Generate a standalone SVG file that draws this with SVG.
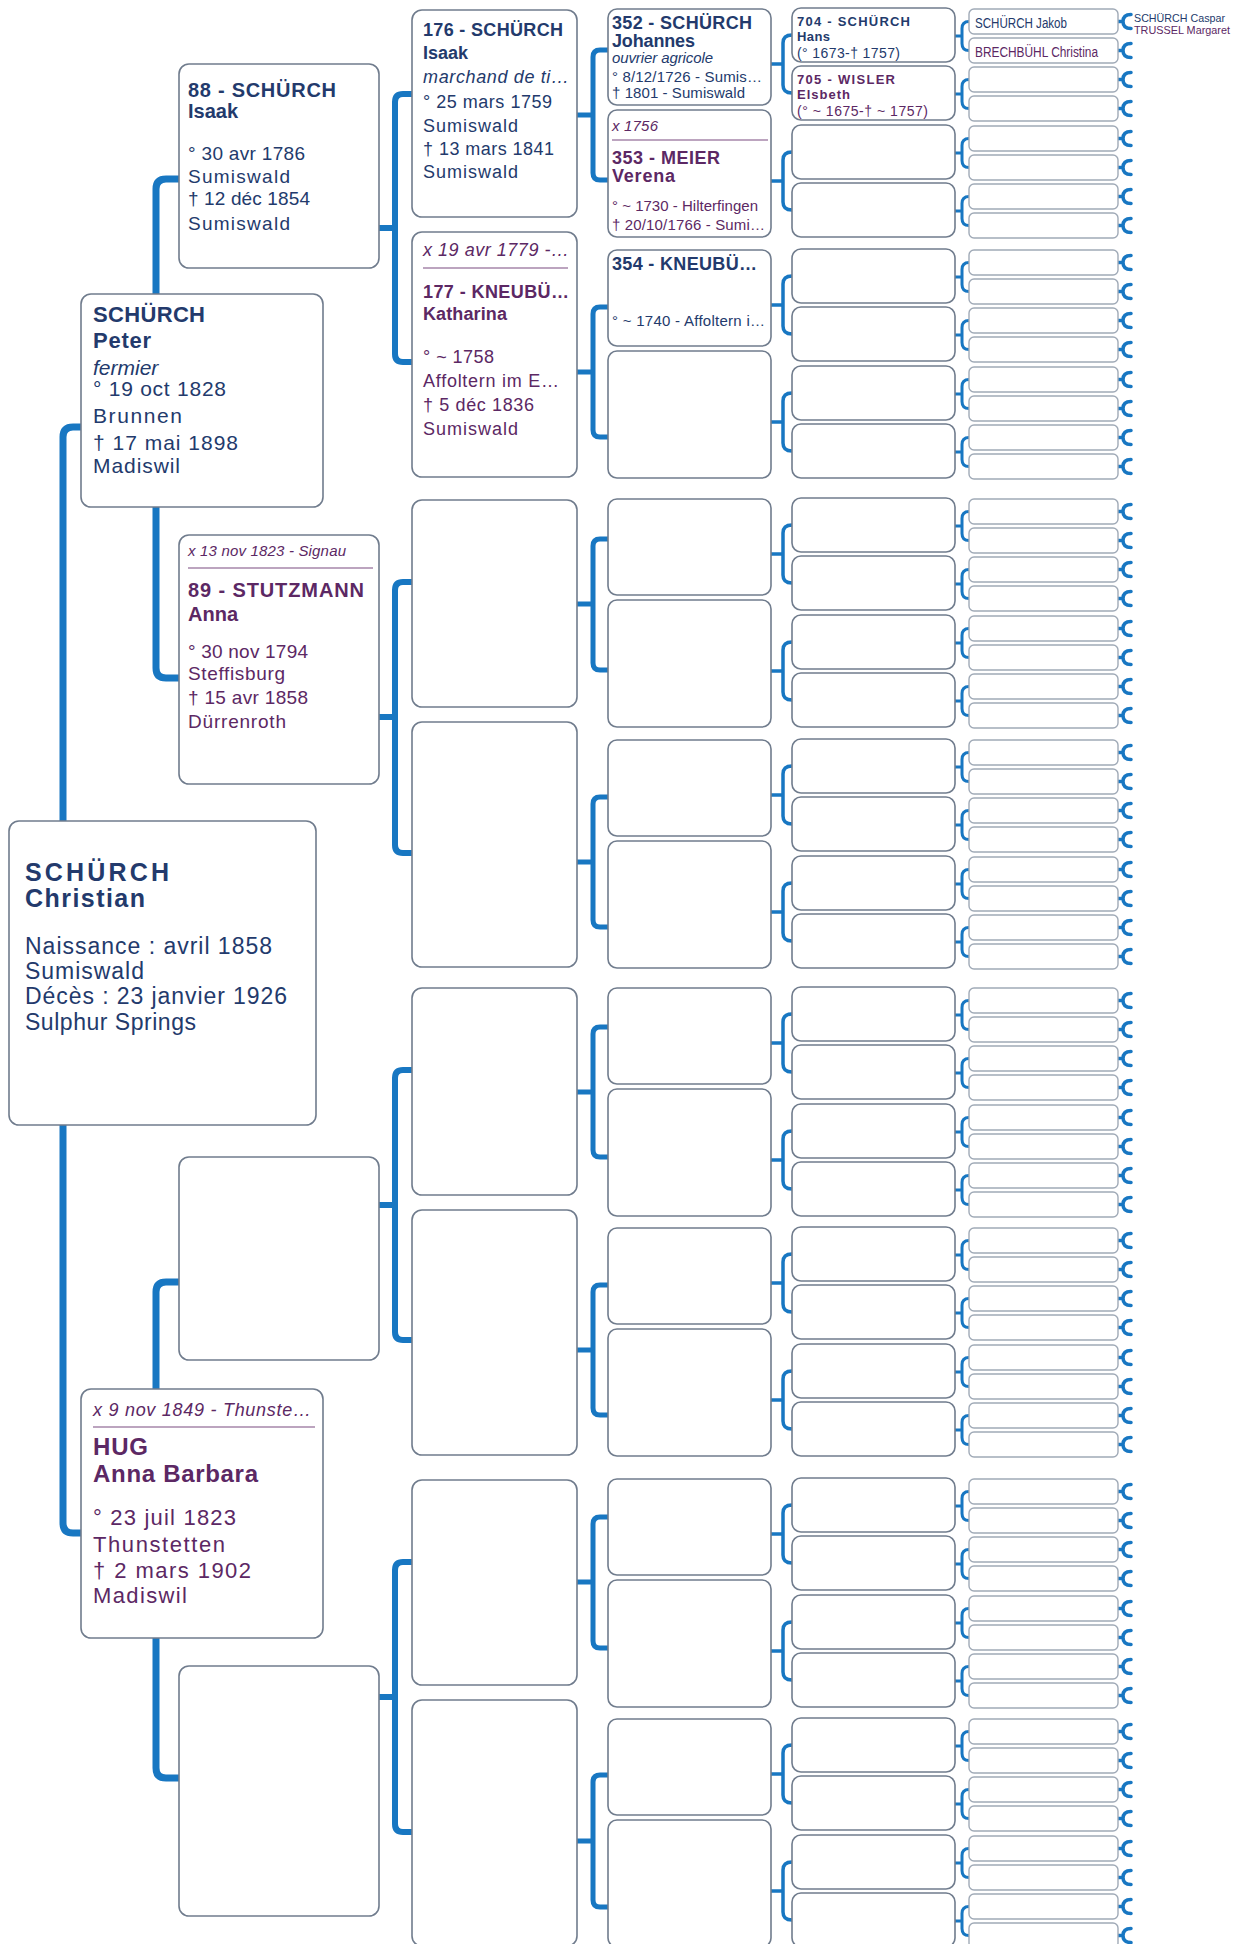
<svg xmlns="http://www.w3.org/2000/svg" width="1242" height="1944" viewBox="0 0 1242 1944">
<style>
text{font-family:"Liberation Sans",Arial,Helvetica,sans-serif}
.m{fill:#233a6c}
.f{fill:#5c2864}
.b{font-weight:bold}
.i{font-style:italic}
.bx{fill:#fff;stroke:#707c8d;stroke-width:1.6}
.bs{fill:#fff;stroke:#a0aab7;stroke-width:1.4}
.k7{fill:none;stroke:#1877c2;stroke-width:7;stroke-linejoin:round}
.k6{fill:none;stroke:#1877c2;stroke-width:6;stroke-linejoin:round}
.k5{fill:none;stroke:#1877c2;stroke-width:5;stroke-linejoin:round}
.k4{fill:none;stroke:#1877c2;stroke-width:3.5;stroke-linejoin:round}
.k3{fill:none;stroke:#1877c2;stroke-width:3;stroke-linejoin:round}
.kc{fill:none;stroke:#1877c2;stroke-width:3.5;stroke-linecap:round}
.sep{stroke:#7a4a80;stroke-width:1.2}
</style>
<defs>
<path id="b45" class="k4" d="M771,56 H783 M792,27 Q783,27 783,35 V77 Q783,85 792,85 M771,173 H783 M792,144 Q783,144 783,152 V194 Q783,202 792,202"/>
<g id="u6">
<path class="k3" d="M955,28 H962 M969,13.5 Q962,13.5 962,20.5 V35.5 Q962,42.5 969,42.5"/>
<path class="kc" d="M1118,13.5 H1123 M1131,6.5 Q1123,6.5 1123,13.5 Q1123,20.5 1131,20.5 M1118,42.5 H1123 M1131,35.5 Q1123,35.5 1123,42.5 Q1123,49.5 1131,49.5"/>
</g>
</defs>
<rect x="0" y="0" width="1242" height="1944" fill="#fff"/>

<g id="connectors">
<path class="k7" d="M63,821 V437 Q63,427 73,427 H82 M63,1125 V1523 Q63,1533 73,1533 H82"/>
<path class="k7" d="M156,294 V189 Q156,179 166,179 H180 M156,507 V668 Q156,678 166,678 H180 M156,1389 V1292 Q156,1282 166,1282 H180 M156,1638 V1768 Q156,1778 166,1778 H180"/>
<path class="k6" d="M379,228 H395 M413,94 H403 Q395,94 395,102 V354 Q395,362 403,362 H413"/>
<path class="k6" d="M379,717 H395 M413,582 H403 Q395,582 395,590 V845 Q395,853 403,853 H413"/>
<path class="k6" d="M379,1205 H395 M413,1070 H403 Q395,1070 395,1078 V1332 Q395,1340 403,1340 H413"/>
<path class="k6" d="M379,1697 H395 M413,1562 H403 Q395,1562 395,1570 V1824 Q395,1832 403,1832 H413"/>
<path class="k5" d="M577,115 H593 M609,50 H600 Q593,50 593,57 V173 Q593,180 600,180 H609"/>
<path class="k5" d="M577,372 H593 M609,307 H600 Q593,307 593,314 V430 Q593,437 600,437 H609"/>
<path class="k5" d="M577,604 H593 M609,539 H600 Q593,539 593,546 V663 Q593,670 600,670 H609"/>
<path class="k5" d="M577,862 H593 M609,797 H600 Q593,797 593,804 V920 Q593,927 600,927 H609"/>
<path class="k5" d="M577,1092 H593 M609,1027 H600 Q593,1027 593,1034 V1150 Q593,1157 600,1157 H609"/>
<path class="k5" d="M577,1350 H593 M609,1285 H600 Q593,1285 593,1292 V1408 Q593,1415 600,1415 H609"/>
<path class="k5" d="M577,1582 H593 M609,1517 H600 Q593,1517 593,1524 V1641 Q593,1648 600,1648 H609"/>
<path class="k5" d="M577,1841 H593 M609,1775 H600 Q593,1775 593,1782 V1900 Q593,1907 600,1907 H609"/>
<use href="#b45" y="8"/><use href="#b45" y="249"/><use href="#b45" y="498"/><use href="#b45" y="739"/>
<use href="#b45" y="987"/><use href="#b45" y="1227"/><use href="#b45" y="1478"/><use href="#b45" y="1718"/>
<use href="#u6" y="8"/><use href="#u6" y="66"/><use href="#u6" y="125"/><use href="#u6" y="183"/>
<use href="#u6" y="249"/><use href="#u6" y="307"/><use href="#u6" y="366"/><use href="#u6" y="424"/>
<use href="#u6" y="498"/><use href="#u6" y="556"/><use href="#u6" y="615"/><use href="#u6" y="673"/>
<use href="#u6" y="739"/><use href="#u6" y="797"/><use href="#u6" y="856"/><use href="#u6" y="914"/>
<use href="#u6" y="987"/><use href="#u6" y="1045"/><use href="#u6" y="1104"/><use href="#u6" y="1162"/>
<use href="#u6" y="1227"/><use href="#u6" y="1285"/><use href="#u6" y="1344"/><use href="#u6" y="1402"/>
<use href="#u6" y="1478"/><use href="#u6" y="1536"/><use href="#u6" y="1595"/><use href="#u6" y="1653"/>
<use href="#u6" y="1718"/><use href="#u6" y="1776"/><use href="#u6" y="1835"/><use href="#u6" y="1893"/>
</g>

<g id="p22"><rect class="bx" x="9" y="821" width="307" height="304" rx="10"/>
<text class="m b" font-size="25" x="25" y="881" textLength="144">SCHÜRCH</text>
<text class="m b" font-size="25" x="25" y="907" textLength="120">Christian</text>
<text class="m" font-size="23" x="25" y="954" textLength="247">Naissance : avril 1858</text>
<text class="m" font-size="23" x="25" y="979" textLength="119">Sumiswald</text>
<text class="m" font-size="23" x="25" y="1004" textLength="262">Décès : 23 janvier 1926</text>
<text class="m" font-size="23" x="25" y="1030" textLength="171">Sulphur Springs</text>
</g>

<g id="p44"><rect class="bx" x="81" y="294" width="242" height="213" rx="10"/>
<text class="m b" font-size="22" x="93" y="322" textLength="112">SCHÜRCH</text>
<text class="m b" font-size="22" x="93" y="348" textLength="58">Peter</text>
<text class="m i" font-size="21" x="93" y="375">fermier</text>
<text class="m" font-size="21" x="93" y="396" textLength="133">° 19 oct 1828</text>
<text class="m" font-size="21" x="93" y="423" textLength="89">Brunnen</text>
<text class="m" font-size="21" x="93" y="450" textLength="145">† 17 mai 1898</text>
<text class="m" font-size="21" x="93" y="473" textLength="87">Madiswil</text>
</g>

<g id="p45"><rect class="bx" x="81" y="1389" width="242" height="249" rx="10"/>
<text class="f i" font-size="18" x="93" y="1416" textLength="218">x 9 nov 1849 - Thunste…</text>
<line class="sep" x1="93" y1="1427" x2="315" y2="1427"/>
<text class="f b" font-size="24" x="93" y="1455" textLength="55">HUG</text>
<text class="f b" font-size="24" x="93" y="1482" textLength="165">Anna Barbara</text>
<text class="f" font-size="22" x="93" y="1525" textLength="143">° 23 juil 1823</text>
<text class="f" font-size="22" x="93" y="1552" textLength="132">Thunstetten</text>
<text class="f" font-size="22" x="93" y="1578" textLength="158">† 2 mars 1902</text>
<text class="f" font-size="22" x="93" y="1603" textLength="94">Madiswil</text>
</g>

<g id="p88"><rect class="bx" x="179" y="64" width="200" height="204" rx="10"/>
<text class="m b" font-size="20" x="188" y="97" textLength="148">88 - SCHÜRCH</text>
<text class="m b" font-size="20" x="188" y="118">Isaak</text>
<text class="m" font-size="19" x="188" y="160" textLength="117">° 30 avr 1786</text>
<text class="m" font-size="19" x="188" y="183" textLength="102">Sumiswald</text>
<text class="m" font-size="19" x="188" y="205" textLength="122">† 12 déc 1854</text>
<text class="m" font-size="19" x="188" y="230" textLength="102">Sumiswald</text>
</g>

<g id="p89"><rect class="bx" x="179" y="535" width="200" height="249" rx="10"/>
<text class="f i" font-size="15" x="188" y="556" textLength="158">x 13 nov 1823 - Signau</text>
<line class="sep" x1="188" y1="568" x2="373" y2="568"/>
<text class="f b" font-size="20" x="188" y="597" textLength="176">89 - STUTZMANN</text>
<text class="f b" font-size="20" x="188" y="621">Anna</text>
<text class="f" font-size="19" x="188" y="658" textLength="120">° 30 nov 1794</text>
<text class="f" font-size="19" x="188" y="680" textLength="97">Steffisburg</text>
<text class="f" font-size="19" x="188" y="704" textLength="120">† 15 avr 1858</text>
<text class="f" font-size="19" x="188" y="728" textLength="98">Dürrenroth</text>
</g>

<g id="p90"><rect class="bx" x="179" y="1157" width="200" height="203" rx="10"/></g>
<g id="p91"><rect class="bx" x="179" y="1666" width="200" height="250" rx="10"/></g>

<g id="p176"><rect class="bx" x="412" y="10" width="165" height="207" rx="10"/>
<text class="m b" font-size="18" x="423" y="36" textLength="140">176 - SCHÜRCH</text>
<text class="m b" font-size="18" x="423" y="59">Isaak</text>
<text class="m i" font-size="18" x="423" y="83" textLength="146">marchand de ti…</text>
<text class="m" font-size="18" x="423" y="108" textLength="129">° 25 mars 1759</text>
<text class="m" font-size="18" x="423" y="132" textLength="95">Sumiswald</text>
<text class="m" font-size="18" x="423" y="155" textLength="131">† 13 mars 1841</text>
<text class="m" font-size="18" x="423" y="178" textLength="95">Sumiswald</text>
</g>

<g id="p177"><rect class="bx" x="412" y="232" width="165" height="245" rx="10"/>
<text class="f i" font-size="18" x="423" y="256" textLength="146">x 19 avr 1779 -…</text>
<line class="sep" x1="423" y1="268" x2="568" y2="268"/>
<text class="f b" font-size="18" x="423" y="298" textLength="146">177 - KNEUBÜ…</text>
<text class="f b" font-size="18" x="423" y="320" textLength="84">Katharina</text>
<text class="f" font-size="18" x="423" y="363" textLength="71">° ~ 1758</text>
<text class="f" font-size="18" x="423" y="387" textLength="136">Affoltern im E…</text>
<text class="f" font-size="18" x="423" y="411" textLength="111">† 5 déc 1836</text>
<text class="f" font-size="18" x="423" y="435" textLength="95">Sumiswald</text>
</g>

<g id="p178"><rect class="bx" x="412" y="500" width="165" height="207" rx="10"/></g>
<g id="p179"><rect class="bx" x="412" y="722" width="165" height="245" rx="10"/></g>
<g id="p180"><rect class="bx" x="412" y="988" width="165" height="207" rx="10"/></g>
<g id="p181"><rect class="bx" x="412" y="1210" width="165" height="245" rx="10"/></g>
<g id="p182"><rect class="bx" x="412" y="1480" width="165" height="205" rx="10"/></g>
<g id="p183"><rect class="bx" x="412" y="1700" width="165" height="246" rx="10"/></g>

<g id="p352"><rect class="bx" x="608" y="9" width="163" height="96" rx="9"/>
<text class="m b" font-size="18" x="612" y="29" textLength="140">352 - SCHÜRCH</text>
<text class="m b" font-size="18" x="612" y="47" textLength="83">Johannes</text>
<text class="m i" font-size="15" x="612" y="63" textLength="101">ouvrier agricole</text>
<text class="m" font-size="15" x="612" y="82" textLength="150">° 8/12/1726 - Sumis…</text>
<text class="m" font-size="15" x="612" y="98" textLength="133">† 1801 - Sumiswald</text>
</g>
<g id="p353"><rect class="bx" x="608" y="110" width="163" height="127" rx="9"/>
<text class="f i" font-size="15" x="612" y="131" textLength="46">x 1756</text>
<line class="sep" x1="612" y1="140" x2="768" y2="140"/>
<text class="f b" font-size="18" x="612" y="164" textLength="108">353 - MEIER</text>
<text class="f b" font-size="18" x="612" y="182" textLength="63">Verena</text>
<text class="f" font-size="15" x="612" y="211" textLength="146">° ~ 1730 - Hilterfingen</text>
<text class="f" font-size="15" x="612" y="230" textLength="153">† 20/10/1766 - Sumi…</text>
</g>
<g id="p354"><rect class="bx" x="608" y="250" width="163" height="96" rx="9"/>
<text class="m b" font-size="18" x="612" y="270" textLength="145">354 - KNEUBÜ…</text>
<text class="m" font-size="15" x="612" y="326" textLength="153">° ~ 1740 - Affoltern i…</text>
</g>
<g id="p355"><rect class="bx" x="608" y="351" width="163" height="127" rx="9"/></g>
<g id="p356"><rect class="bx" x="608" y="499" width="163" height="96" rx="9"/></g>
<g id="p357"><rect class="bx" x="608" y="600" width="163" height="127" rx="9"/></g>
<g id="p358"><rect class="bx" x="608" y="740" width="163" height="96" rx="9"/></g>
<g id="p359"><rect class="bx" x="608" y="841" width="163" height="127" rx="9"/></g>
<g id="p360"><rect class="bx" x="608" y="988" width="163" height="96" rx="9"/></g>
<g id="p361"><rect class="bx" x="608" y="1089" width="163" height="127" rx="9"/></g>
<g id="p362"><rect class="bx" x="608" y="1228" width="163" height="96" rx="9"/></g>
<g id="p363"><rect class="bx" x="608" y="1329" width="163" height="127" rx="9"/></g>
<g id="p364"><rect class="bx" x="608" y="1479" width="163" height="96" rx="9"/></g>
<g id="p365"><rect class="bx" x="608" y="1580" width="163" height="127" rx="9"/></g>
<g id="p366"><rect class="bx" x="608" y="1719" width="163" height="96" rx="9"/></g>
<g id="p367"><rect class="bx" x="608" y="1820" width="163" height="127" rx="9"/></g>

<g id="p704"><rect class="bx" x="792" y="8" width="163" height="54" rx="9"/>
<text class="m b" font-size="13" x="797" y="26" textLength="113">704 - SCHÜRCH</text>
<text class="m b" font-size="13" x="797" y="41" textLength="33">Hans</text>
<text class="m" font-size="14" x="797" y="58" textLength="103">(° 1673-† 1757)</text>
</g>
<g id="p705"><rect class="bx" x="792" y="66" width="163" height="54" rx="9"/>
<text class="f b" font-size="13" x="797" y="84" textLength="98">705 - WISLER</text>
<text class="f b" font-size="13" x="797" y="99" textLength="53">Elsbeth</text>
<text class="f" font-size="14" x="797" y="116" textLength="131">(° ~ 1675-† ~ 1757)</text>
</g>
<g id="p706"><rect class="bx" x="792" y="125" width="163" height="54" rx="9"/></g>
<g id="p707"><rect class="bx" x="792" y="183" width="163" height="54" rx="9"/></g>
<g id="p708"><rect class="bx" x="792" y="249" width="163" height="54" rx="9"/></g>
<g id="p709"><rect class="bx" x="792" y="307" width="163" height="54" rx="9"/></g>
<g id="p710"><rect class="bx" x="792" y="366" width="163" height="54" rx="9"/></g>
<g id="p711"><rect class="bx" x="792" y="424" width="163" height="54" rx="9"/></g>
<g id="p712"><rect class="bx" x="792" y="498" width="163" height="54" rx="9"/></g>
<g id="p713"><rect class="bx" x="792" y="556" width="163" height="54" rx="9"/></g>
<g id="p714"><rect class="bx" x="792" y="615" width="163" height="54" rx="9"/></g>
<g id="p715"><rect class="bx" x="792" y="673" width="163" height="54" rx="9"/></g>
<g id="p716"><rect class="bx" x="792" y="739" width="163" height="54" rx="9"/></g>
<g id="p717"><rect class="bx" x="792" y="797" width="163" height="54" rx="9"/></g>
<g id="p718"><rect class="bx" x="792" y="856" width="163" height="54" rx="9"/></g>
<g id="p719"><rect class="bx" x="792" y="914" width="163" height="54" rx="9"/></g>
<g id="p720"><rect class="bx" x="792" y="987" width="163" height="54" rx="9"/></g>
<g id="p721"><rect class="bx" x="792" y="1045" width="163" height="54" rx="9"/></g>
<g id="p722"><rect class="bx" x="792" y="1104" width="163" height="54" rx="9"/></g>
<g id="p723"><rect class="bx" x="792" y="1162" width="163" height="54" rx="9"/></g>
<g id="p724"><rect class="bx" x="792" y="1227" width="163" height="54" rx="9"/></g>
<g id="p725"><rect class="bx" x="792" y="1285" width="163" height="54" rx="9"/></g>
<g id="p726"><rect class="bx" x="792" y="1344" width="163" height="54" rx="9"/></g>
<g id="p727"><rect class="bx" x="792" y="1402" width="163" height="54" rx="9"/></g>
<g id="p728"><rect class="bx" x="792" y="1478" width="163" height="54" rx="9"/></g>
<g id="p729"><rect class="bx" x="792" y="1536" width="163" height="54" rx="9"/></g>
<g id="p730"><rect class="bx" x="792" y="1595" width="163" height="54" rx="9"/></g>
<g id="p731"><rect class="bx" x="792" y="1653" width="163" height="54" rx="9"/></g>
<g id="p732"><rect class="bx" x="792" y="1718" width="163" height="54" rx="9"/></g>
<g id="p733"><rect class="bx" x="792" y="1776" width="163" height="54" rx="9"/></g>
<g id="p734"><rect class="bx" x="792" y="1835" width="163" height="54" rx="9"/></g>
<g id="p735"><rect class="bx" x="792" y="1893" width="163" height="54" rx="9"/></g>

<g id="p1408"><rect class="bs" x="969" y="9" width="149" height="25" rx="5"/>
<text class="m" font-size="14" x="975" y="28" textLength="92" lengthAdjust="spacingAndGlyphs">SCHÜRCH Jakob</text></g>
<g id="p1409"><rect class="bs" x="969" y="38" width="149" height="25" rx="5"/>
<text class="f" font-size="14" x="975" y="57" textLength="123" lengthAdjust="spacingAndGlyphs">BRECHBÜHL Christina</text></g>
<g id="p1410"><rect class="bs" x="969" y="67" width="149" height="25" rx="5"/></g>
<g id="p1411"><rect class="bs" x="969" y="96" width="149" height="25" rx="5"/></g>
<g id="p1412"><rect class="bs" x="969" y="126" width="149" height="25" rx="5"/></g>
<g id="p1413"><rect class="bs" x="969" y="155" width="149" height="25" rx="5"/></g>
<g id="p1414"><rect class="bs" x="969" y="184" width="149" height="25" rx="5"/></g>
<g id="p1415"><rect class="bs" x="969" y="213" width="149" height="25" rx="5"/></g>
<g id="p1416"><rect class="bs" x="969" y="250" width="149" height="25" rx="5"/></g>
<g id="p1417"><rect class="bs" x="969" y="279" width="149" height="25" rx="5"/></g>
<g id="p1418"><rect class="bs" x="969" y="308" width="149" height="25" rx="5"/></g>
<g id="p1419"><rect class="bs" x="969" y="337" width="149" height="25" rx="5"/></g>
<g id="p1420"><rect class="bs" x="969" y="367" width="149" height="25" rx="5"/></g>
<g id="p1421"><rect class="bs" x="969" y="396" width="149" height="25" rx="5"/></g>
<g id="p1422"><rect class="bs" x="969" y="425" width="149" height="25" rx="5"/></g>
<g id="p1423"><rect class="bs" x="969" y="454" width="149" height="25" rx="5"/></g>
<g id="p1424"><rect class="bs" x="969" y="499" width="149" height="25" rx="5"/></g>
<g id="p1425"><rect class="bs" x="969" y="528" width="149" height="25" rx="5"/></g>
<g id="p1426"><rect class="bs" x="969" y="557" width="149" height="25" rx="5"/></g>
<g id="p1427"><rect class="bs" x="969" y="586" width="149" height="25" rx="5"/></g>
<g id="p1428"><rect class="bs" x="969" y="616" width="149" height="25" rx="5"/></g>
<g id="p1429"><rect class="bs" x="969" y="645" width="149" height="25" rx="5"/></g>
<g id="p1430"><rect class="bs" x="969" y="674" width="149" height="25" rx="5"/></g>
<g id="p1431"><rect class="bs" x="969" y="703" width="149" height="25" rx="5"/></g>
<g id="p1432"><rect class="bs" x="969" y="740" width="149" height="25" rx="5"/></g>
<g id="p1433"><rect class="bs" x="969" y="769" width="149" height="25" rx="5"/></g>
<g id="p1434"><rect class="bs" x="969" y="798" width="149" height="25" rx="5"/></g>
<g id="p1435"><rect class="bs" x="969" y="827" width="149" height="25" rx="5"/></g>
<g id="p1436"><rect class="bs" x="969" y="857" width="149" height="25" rx="5"/></g>
<g id="p1437"><rect class="bs" x="969" y="886" width="149" height="25" rx="5"/></g>
<g id="p1438"><rect class="bs" x="969" y="915" width="149" height="25" rx="5"/></g>
<g id="p1439"><rect class="bs" x="969" y="944" width="149" height="25" rx="5"/></g>
<g id="p1440"><rect class="bs" x="969" y="988" width="149" height="25" rx="5"/></g>
<g id="p1441"><rect class="bs" x="969" y="1017" width="149" height="25" rx="5"/></g>
<g id="p1442"><rect class="bs" x="969" y="1046" width="149" height="25" rx="5"/></g>
<g id="p1443"><rect class="bs" x="969" y="1075" width="149" height="25" rx="5"/></g>
<g id="p1444"><rect class="bs" x="969" y="1105" width="149" height="25" rx="5"/></g>
<g id="p1445"><rect class="bs" x="969" y="1134" width="149" height="25" rx="5"/></g>
<g id="p1446"><rect class="bs" x="969" y="1163" width="149" height="25" rx="5"/></g>
<g id="p1447"><rect class="bs" x="969" y="1192" width="149" height="25" rx="5"/></g>
<g id="p1448"><rect class="bs" x="969" y="1228" width="149" height="25" rx="5"/></g>
<g id="p1449"><rect class="bs" x="969" y="1257" width="149" height="25" rx="5"/></g>
<g id="p1450"><rect class="bs" x="969" y="1286" width="149" height="25" rx="5"/></g>
<g id="p1451"><rect class="bs" x="969" y="1315" width="149" height="25" rx="5"/></g>
<g id="p1452"><rect class="bs" x="969" y="1345" width="149" height="25" rx="5"/></g>
<g id="p1453"><rect class="bs" x="969" y="1374" width="149" height="25" rx="5"/></g>
<g id="p1454"><rect class="bs" x="969" y="1403" width="149" height="25" rx="5"/></g>
<g id="p1455"><rect class="bs" x="969" y="1432" width="149" height="25" rx="5"/></g>
<g id="p1456"><rect class="bs" x="969" y="1479" width="149" height="25" rx="5"/></g>
<g id="p1457"><rect class="bs" x="969" y="1508" width="149" height="25" rx="5"/></g>
<g id="p1458"><rect class="bs" x="969" y="1537" width="149" height="25" rx="5"/></g>
<g id="p1459"><rect class="bs" x="969" y="1566" width="149" height="25" rx="5"/></g>
<g id="p1460"><rect class="bs" x="969" y="1596" width="149" height="25" rx="5"/></g>
<g id="p1461"><rect class="bs" x="969" y="1625" width="149" height="25" rx="5"/></g>
<g id="p1462"><rect class="bs" x="969" y="1654" width="149" height="25" rx="5"/></g>
<g id="p1463"><rect class="bs" x="969" y="1683" width="149" height="25" rx="5"/></g>
<g id="p1464"><rect class="bs" x="969" y="1719" width="149" height="25" rx="5"/></g>
<g id="p1465"><rect class="bs" x="969" y="1748" width="149" height="25" rx="5"/></g>
<g id="p1466"><rect class="bs" x="969" y="1777" width="149" height="25" rx="5"/></g>
<g id="p1467"><rect class="bs" x="969" y="1806" width="149" height="25" rx="5"/></g>
<g id="p1468"><rect class="bs" x="969" y="1836" width="149" height="25" rx="5"/></g>
<g id="p1469"><rect class="bs" x="969" y="1865" width="149" height="25" rx="5"/></g>
<g id="p1470"><rect class="bs" x="969" y="1894" width="149" height="25" rx="5"/></g>
<g id="p1471"><rect class="bs" x="969" y="1923" width="149" height="25" rx="5"/></g>

<g id="p2816-2817">
<text class="m" font-size="10.5" x="1134" y="22" textLength="91" lengthAdjust="spacingAndGlyphs">SCHÜRCH Caspar</text>
<text class="f" font-size="10.5" x="1134" y="34" textLength="96" lengthAdjust="spacingAndGlyphs">TRUSSEL Margaret</text>
</g>
</svg>
